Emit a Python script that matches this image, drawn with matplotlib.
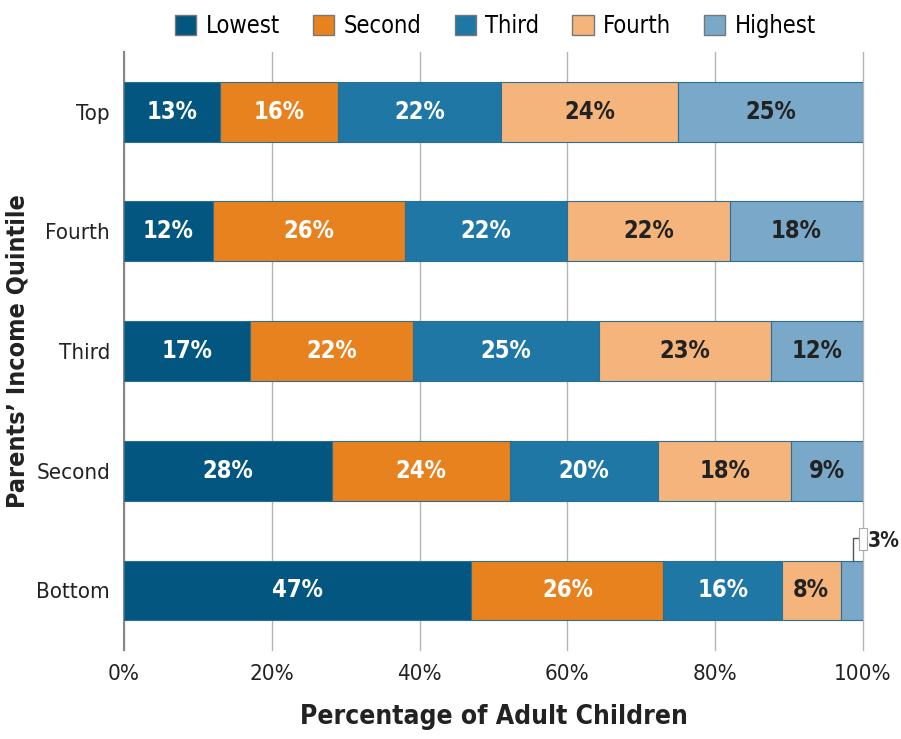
import numpy as np
import matplotlib.pyplot as plt
from matplotlib.patches import Patch

plt.rcParams['font.family'] = 'DejaVu Sans'
plt.rcParams['font.stretch'] = 'condensed'

groups = ['Top', 'Fourth', 'Third', 'Second', 'Bottom']
series = ['Lowest', 'Second', 'Third', 'Fourth', 'Highest']
# segment shares (printed labels are the rounded values)
values = np.array([
    [13.0, 16.0, 22.0, 24.0, 25.0],
    [12.0, 26.0, 22.0, 22.0, 18.0],
    [17.1, 22.0, 25.2, 23.2, 12.5],
    [28.1, 24.1, 20.1, 18.0, 9.7],
    [47.0, 26.0, 16.0, 8.0, 3.0],
])
colors = ['#02567f', '#e8821e', '#1f77a6', '#f4b47c', '#79a8c8']
text_colors = ['white', 'white', 'white', '#222222', '#222222']
edge = '#2d6f94'

fig = plt.figure(figsize=(9.01, 7.39), dpi=100)
ax = fig.add_axes([0.1376, 0.12, 0.8202, 0.81])

y = np.arange(len(groups))
left = np.zeros(len(groups))
for j, name in enumerate(series):
    ax.barh(y, values[:, j], left=left, height=0.5, color=colors[j],
            edgecolor=edge, linewidth=0.8, zorder=3, label=name)
    for i in range(len(groups)):
        v = values[i, j]
        if v >= 5:
            ax.text(left[i] + v / 2, y[i], f'{int(v)}%', ha='center', va='center',
                    color=text_colors[j], fontsize=17, fontweight='bold', zorder=4)
    left += values[:, j]

# callout for the small 3% segment in the bottom row
ax.plot([98.6, 98.6, 99.45], [3.75, 3.565, 3.565], color='#555555', lw=1, zorder=4)
ax.add_patch(plt.Rectangle((99.45, 3.48), 1.05, 0.18, facecolor='white',
                           edgecolor='#aaaaaa', lw=0.8, zorder=5, clip_on=False))
ax.text(100.7, 3.59, f'{values[4, 4]:.0f}%', ha='left', va='center', fontsize=15,
        fontweight='bold', color='#222222', clip_on=False)

ax.set_xlim(0, 100)
ax.set_ylim(4.5, -0.5)
ax.set_yticks(y)
ax.set_yticklabels(groups, fontsize=16, color='#222222')
ax.set_xticks(np.arange(0, 101, 20))
ax.set_xticklabels([f'{t}%' for t in range(0, 101, 20)], fontsize=16, color='#222222')
ax.tick_params(axis='y', length=0, pad=10)
ax.tick_params(axis='x', length=0, pad=10)
ax.grid(axis='x', color='#b5b5b5', lw=1, zorder=0)
for gl in ax.get_xgridlines():
    gl.set_clip_on(False)
for s in ['top', 'right', 'bottom']:
    ax.spines[s].set_visible(False)
ax.spines['left'].set_color('#888888')
ax.spines['left'].set_linewidth(1.5)

ax.set_xlabel('Percentage of Adult Children', fontsize=19, fontweight='bold',
              color='#222222', labelpad=14)
ax.set_ylabel('Parents\u2019 Income Quintile', fontsize=18, fontweight='bold',
              color='#222222')
ax.yaxis.set_label_coords(-0.128, 0.5)

handles = [Patch(facecolor=c, edgecolor='#777777', label=n) for c, n in zip(colors, series)]
fig.legend(handles=handles, loc='upper center', bbox_to_anchor=(0.55, 1.01), ncol=5,
           frameon=False, fontsize=17, handlelength=0.9, handleheight=0.9,
           columnspacing=1.4, handletextpad=0.4)

fig.savefig('out.png', dpi=100)
